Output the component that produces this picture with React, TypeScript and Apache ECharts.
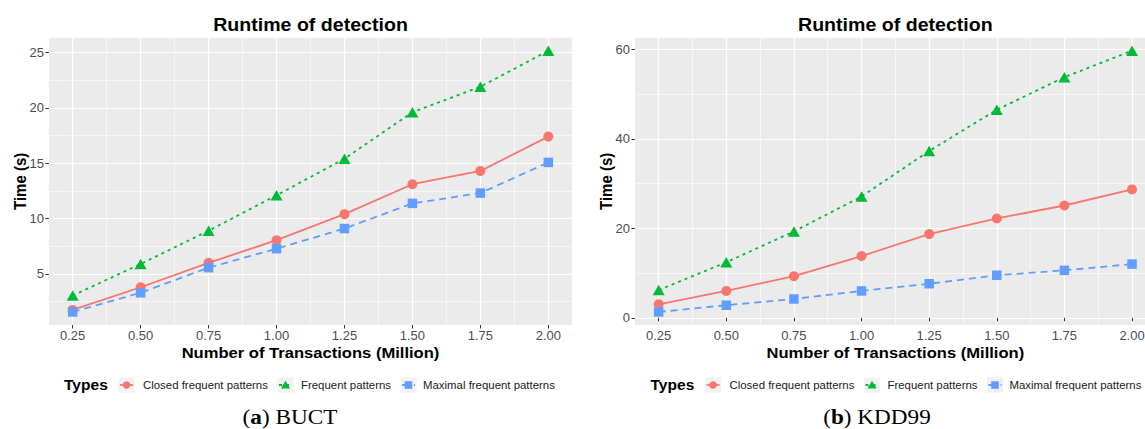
import React, { useEffect, useRef } from "react";
import * as echarts from "echarts";

// ---- data -------------------------------------------------------------
const transactions = [0.25, 0.5, 0.75, 1.0, 1.25, 1.5, 1.75, 2.0];
const xTicks = [0.25, 0.5, 0.75, 1.0, 1.25, 1.5, 1.75, 2.0];
const xMinorTicks = [0.375, 0.625, 0.875, 1.125, 1.375, 1.625, 1.875];

const patternTypes = [
  "Closed frequent patterns",
  "Frequent patterns",
  "Maximal frequent patterns",
];

// BUCT runtimes (s)
const buctClosed = [1.75, 3.8, 6.0, 8.05, 10.4, 13.1, 14.3, 17.4];
const buctFrequent = [3.05, 5.9, 8.9, 12.1, 15.4, 19.6, 21.9, 25.15];
const buctMaximal = [1.57, 3.3, 5.57, 7.28, 9.1, 11.37, 12.3, 15.07];
const buctYTicks = [5, 10, 15, 20, 25];
const buctYMinorTicks = [2.5, 7.5, 12.5, 17.5, 22.5];

// KDD99 runtimes (s)
const kddClosed = [3.0, 6.0, 9.3, 13.8, 18.7, 22.2, 25.1, 28.7];
const kddFrequent = [6.2, 12.4, 19.3, 27.1, 37.3, 46.5, 53.8, 59.7];
const kddMaximal = [1.3, 2.8, 4.2, 6.0, 7.6, 9.5, 10.6, 12.0];
const kddYTicks = [0, 20, 40, 60];
const kddYMinorTicks = [10, 30, 50];

const chartTitle = "Runtime of detection";
const xTitle = "Number of Transactions (Million)";
const yTitle = "Time (s)";
const legendTitle = "Types";

// ---- styling ----------------------------------------------------------
const SANS = '"Liberation Sans", Arial, sans-serif';
const SERIF = '"Liberation Serif", "Times New Roman", serif';
const STRETCH = 1.12;

const typeStyles = [
  { color: "#F8766D", symbol: "circle", size: 10, dash: "solid" as any },
  { color: "#00BA38", symbol: "triangle", size: [12, 10.5], dash: [3, 4] },
  { color: "#619CFF", symbol: "rect", size: 9.5, dash: [7, 5] },
];

const panels = [
  {
    series: [buctClosed, buctFrequent, buctMaximal],
    yTicks: buctYTicks,
    yMinor: buctYMinorTicks,
    caption: { letter: "a", name: "BUCT", cx: 290 },
    grid: { left: 48.9, top: 37.7, width: 523.2, height: 287.3 },
    yTitleX: 20.5,
    legendShift: 0,
  },
  {
    series: [kddClosed, kddFrequent, kddMaximal],
    yTicks: kddYTicks,
    yMinor: kddYMinorTicks,
    caption: { letter: "b", name: "KDD99", cx: 877 },
    grid: { left: 635, top: 37.7, width: 520.7, height: 287.3 },
    yTitleX: 606.5,
    legendShift: 586.5,
  },
];

// ggplot-style 5% expansion of a continuous scale
function expand(vals: number[]): [number, number] {
  const lo = Math.min(...vals);
  const hi = Math.max(...vals);
  const pad = (hi - lo) * 0.05;
  return [lo - pad, hi + pad];
}

function text(x: number, y: number, str: string, size: number, weight: string, extra: any = {}) {
  return {
    type: "text",
    x,
    y,
    scaleX: STRETCH,
    silent: true,
    style: {
      text: str,
      fill: "#000000",
      fontSize: size,
      fontWeight: weight,
      fontFamily: SANS,
      align: "center",
      verticalAlign: "middle",
    },
    ...extra,
  };
}

function legendGraphics(shift: number) {
  const items: any[] = [];
  const cy = 385;
  items.push(text(64 + shift, cy, legendTitle, 13.9, "bold", { style: { text: legendTitle, fill: "#000", fontSize: 13.9, fontWeight: "bold", fontFamily: SANS, align: "left", verticalAlign: "middle" } }));
  const keyX = [118.5, 277.5, 400.5];
  const textX = [143, 301, 423];
  patternTypes.forEach((name, k) => {
    const st = typeStyles[k];
    const kx = keyX[k] + shift;
    const mid = kx + 8;
    items.push({
      type: "rect",
      silent: true,
      shape: { x: kx, y: cy - 7.7, width: 16, height: 15.4 },
      style: { fill: "#F2F2F2" },
    });
    items.push({
      type: "line",
      silent: true,
      shape: { x1: mid - 6.5, y1: cy, x2: mid + 6.5, y2: cy },
      style: { stroke: st.color, lineWidth: 1.8, lineDash: st.dash === "solid" ? null : st.dash },
    });
    if (st.symbol === "circle") {
      items.push({ type: "circle", silent: true, shape: { cx: mid, cy, r: 3.8 }, style: { fill: st.color } });
    } else if (st.symbol === "triangle") {
      items.push({
        type: "polygon",
        silent: true,
        shape: { points: [[mid, cy - 4.2], [mid + 4.6, cy + 3.6], [mid - 4.6, cy + 3.6]] },
        style: { fill: st.color },
      });
    } else {
      items.push({ type: "rect", silent: true, shape: { x: mid - 3.8, y: cy - 3.8, width: 7.6, height: 7.6 }, style: { fill: st.color } });
    }
    items.push({
      type: "text",
      x: textX[k] + shift,
      y: cy,
      scaleX: STRETCH,
      silent: true,
      style: { text: name, fill: "#1A1A1A", fontSize: 10.2, fontFamily: SANS, align: "left", verticalAlign: "middle" },
    });
  });
  return items;
}

function buildOption() {
  const grids: any[] = [];
  const xAxes: any[] = [];
  const yAxes: any[] = [];
  const series: any[] = [];
  const graphics: any[] = [];

  panels.forEach((p, gi) => {
    grids.push({
      ...p.grid,
      show: true,
      backgroundColor: "#EBEBEB",
      borderWidth: 0,
      containLabel: false,
      outerBoundsMode: "none",
    });

    const [xMin, xMax] = expand(transactions);
    const [yMin, yMax] = expand(p.series.flat());

    const labelStyle = { color: "#4D4D4D", fontSize: 13, fontFamily: SANS };
    const tickStyle = { color: "#333333", width: 1 };

    xAxes.push({
      type: "value",
      gridIndex: gi,
      min: xMin,
      max: xMax,
      position: "bottom",
      axisLine: { show: false },
      axisTick: { show: true, customValues: xTicks, length: 3.5, inside: false, lineStyle: tickStyle },
      axisLabel: { show: true, customValues: xTicks, margin: 4, formatter: (v: number) => v.toFixed(2), ...labelStyle },
      splitLine: { show: true, lineStyle: { color: "#FFFFFF", width: 1.2 } },
    });
    xAxes.push({
      type: "value",
      gridIndex: gi,
      min: xMin,
      max: xMax,
      position: "bottom",
      axisLine: { show: false },
      axisTick: { show: false, customValues: xMinorTicks },
      axisLabel: { show: false, customValues: xMinorTicks },
      splitLine: { show: true, lineStyle: { color: "#FFFFFF", width: 0.6 } },
    });
    yAxes.push({
      type: "value",
      gridIndex: gi,
      min: yMin,
      max: yMax,
      position: "left",
      axisLine: { show: false },
      axisTick: { show: true, customValues: p.yTicks, length: 3.5, inside: false, lineStyle: tickStyle },
      axisLabel: { show: true, customValues: p.yTicks, margin: 5, formatter: (v: number) => String(Math.round(v)), ...labelStyle },
      splitLine: { show: true, lineStyle: { color: "#FFFFFF", width: 1.2 } },
    });
    yAxes.push({
      type: "value",
      gridIndex: gi,
      min: yMin,
      max: yMax,
      position: "left",
      axisLine: { show: false },
      axisTick: { show: false, customValues: p.yMinor },
      axisLabel: { show: false, customValues: p.yMinor },
      splitLine: { show: true, lineStyle: { color: "#FFFFFF", width: 0.6 } },
    });

    // lines first, then points on top of every line
    p.series.forEach((vals, k) => {
      const st = typeStyles[k];
      series.push({
        type: "line",
        name: patternTypes[k],
        xAxisIndex: gi * 2,
        yAxisIndex: gi * 2,
        data: transactions.map((x, i) => [x, vals[i]]),
        symbol: "none",
        z: 2,
        lineStyle: { color: st.color, width: 1.8, type: st.dash },
      });
    });
    p.series.forEach((vals, k) => {
      const st = typeStyles[k];
      series.push({
        type: "scatter",
        name: patternTypes[k],
        xAxisIndex: gi * 2,
        yAxisIndex: gi * 2,
        data: transactions.map((x, i) => [x, vals[i]]),
        symbol: st.symbol,
        symbolSize: st.size,
        z: 3,
        itemStyle: { color: st.color, opacity: 1 },
      });
    });

    const cx = p.grid.left + p.grid.width / 2;
    const cy = p.grid.top + p.grid.height / 2;
    graphics.push(text(cx, 24.5, chartTitle, 17.5, "bold"));
    graphics.push(text(cx, 353, xTitle, 14.8, "bold"));
    graphics.push({
      type: "text",
      x: p.yTitleX,
      y: cy,
      rotation: Math.PI / 2,
      scaleY: STRETCH,
      silent: true,
      style: { text: yTitle, fill: "#000", fontSize: 15, fontWeight: "bold", fontFamily: SANS, align: "center", verticalAlign: "middle" },
    });
    graphics.push(...legendGraphics(p.legendShift));
    graphics.push({
      type: "text",
      x: p.caption.cx,
      y: 416.5,
      scaleX: 1.08,
      silent: true,
      style: {
        text: `{p|(}{b|${p.caption.letter}}{p|) ${p.caption.name}}`,
        align: "center",
        verticalAlign: "middle",
        rich: {
          p: { fontFamily: SERIF, fontSize: 21.5, fill: "#000" },
          b: { fontFamily: SERIF, fontSize: 21.5, fontWeight: "bold", fill: "#000" },
        },
      },
    });
  });

  return {
    animation: false,
    backgroundColor: "#FFFFFF",
    grid: grids,
    xAxis: xAxes,
    yAxis: yAxes,
    series,
    graphic: graphics,
  };
}

export default function App() {
  const ref = useRef<HTMLDivElement>(null);
  useEffect(() => {
    if (!ref.current) return;
    const chart = echarts.init(ref.current, null, { renderer: "svg" });
    chart.setOption(buildOption() as any);
    return () => chart.dispose();
  }, []);
  return (
    <div
      ref={ref}
      style={{ position: "fixed", left: 0, top: 0, width: 1145, height: 429, background: "#FFFFFF" }}
    />
  );
}
